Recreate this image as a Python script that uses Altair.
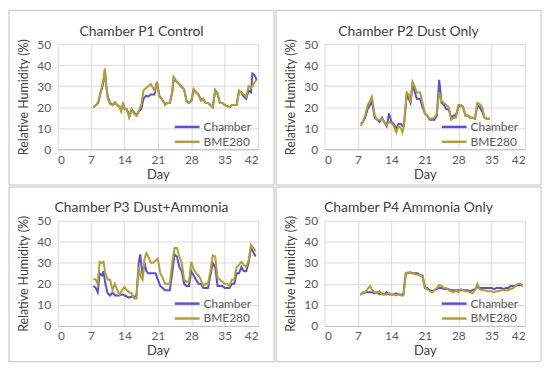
import altair as alt
import pandas as pd

TITLES = ["Chamber P1 Control", "Chamber P2 Dust Only",
          "Chamber P3 Dust+Ammonia", "Chamber P4 Ammonia Only"]
SERIES = ["Chamber", "BME280"]
COLORS = ["#5B4FD3", "#B49E2E"]
X_TICKS = [0, 7, 14, 21, 28, 35, 42]
Y_TICKS = [0, 10, 20, 30, 40, 50]

# ---- Panel P1 ----
P1_DAYS = [7.5, 8, 8.5, 9, 9.3, 9.6, 9.9, 10.2, 10.5, 11, 11.5, 12, 12.5, 13, 13.3, 13.7, 14,
           14.5, 15, 15.5, 16, 16.5, 17, 17.5, 18, 18.5, 19, 19.5, 20, 20.3, 20.8, 21.3, 21.8,
           22.5, 23, 23.5, 24, 24.3, 25, 25.5, 26, 26.5, 27, 27.5, 28, 28.5, 29, 29.5, 30,
           30.5, 31, 31.5, 32, 32.5, 33, 33.5, 34, 34.5, 35, 35.5, 36, 36.5, 37, 37.5, 38,
           38.5, 39, 39.5, 40, 40.5, 40.8, 41.3, 41.7]
P1_CHAMBER = [20, 21, 22, 27, 29, 32, 37.5, 30, 25, 22, 21, 22, 21, 20, 18.5, 21.5, 19.5,
              19, 15.5, 19, 17.5, 16, 18, 19, 24, 25.5, 25, 26, 26, 26, 32, 25.5, 24,
              21.5, 22, 22, 27, 33.5, 32, 31, 29.5, 28.5, 23, 22, 23, 28.5, 27, 26, 23.5,
              24, 22, 22, 21, 20, 28, 26.5, 22, 22, 21, 20.5, 20, 21, 21, 21, 27.5,
              27, 25, 24, 28, 27, 36, 35, 33]
P1_BME = [20, 21, 22.5, 27, 30, 33, 38.5, 30, 24, 21.5, 21, 22.5, 21, 20, 18, 22, 19,
          19, 15, 19, 17, 16, 18, 21, 28, 29, 30, 31, 29, 28, 32, 25, 24,
          21, 22, 22, 27, 34.5, 32, 31, 29.5, 28.5, 23, 22, 23, 28.5, 27, 26, 23,
          24, 22, 22, 21, 20, 28, 26, 22, 22, 21, 20.5, 20, 21, 21, 21, 28,
          27, 26, 25, 30, 29, 30, 32, 33]

# ---- Panel P2 ----
P2_DAYS = [7.6, 8, 8.5, 9, 9.5, 9.9, 10.5, 11, 11.5, 12, 12.5, 13, 13.5, 14, 14.5, 15, 15.5,
           16, 16.3, 16.6, 17.2, 17.6, 18, 18.4, 18.8, 19.3, 20, 20.5, 21, 21.5, 22, 22.5,
           23, 23.5, 24, 24.5, 25, 25.5, 26, 26.5, 27, 27.5, 28, 28.5, 29, 29.5, 30, 30.5,
           31, 31.5, 32, 32.5, 33, 33.5, 34, 34.6]
P2_CHAMBER = [12, 13, 15, 19, 21, 23, 15, 14, 13, 15, 13, 11, 17, 13, 12, 10, 12,
              12, 11, 11, 26, 24, 22, 31, 28, 24, 24, 20, 17, 16, 14, 14,
              14, 16, 33, 22, 21, 19, 19, 15, 16, 16, 20, 21, 20, 16, 16, 15,
              15, 14.5, 21, 20, 18, 15, 14.5, 14.5]
P2_BME = [11, 13, 16, 21, 23, 25, 16, 14, 14, 14.5, 13, 11.5, 13, 12.5, 11, 8, 11,
          10, 8, 11, 27, 26, 22, 32, 30, 27, 27, 22, 17, 16, 14.5, 14.5,
          15, 17, 27, 23, 22, 21, 20, 14, 15, 15, 21, 21, 20, 16, 16, 15,
          15, 14.5, 22, 21.5, 20, 15, 14.5, 14.5]

# ---- Panel P3 ----
P3_DAYS = [7.5, 8, 8.4, 8.8, 9.3, 9.6, 10, 10.5, 11, 11.5, 12, 12.5, 13, 13.5, 14, 14.5, 15,
           15.5, 16, 16.5, 17, 17.3, 17.8, 18.2, 18.6, 19, 19.5, 20, 20.5, 21, 21.5, 22,
           22.5, 23, 23.5, 24, 24.5, 25, 25.5, 26, 26.5, 27, 27.5, 28, 28.5, 29, 29.5, 30,
           30.5, 31, 31.5, 32, 32.5, 33, 33.5, 34, 34.5, 35, 35.5, 36, 36.5, 37, 37.5, 38,
           38.5, 39, 39.5, 40, 40.5, 41, 41.5]
P3_CHAMBER = [19, 18, 16, 25, 24, 26, 20, 15.5, 14.5, 16, 14.5, 14.5, 14.5, 15, 14.5, 14, 13.5,
              14, 14, 14, 30, 34, 24, 30, 26, 25, 25, 25, 25, 22, 19, 18,
              17, 17, 17, 25, 34, 33, 28, 26, 20, 19, 19, 26, 24, 22, 20, 20,
              18, 18, 18, 24, 30, 28, 19, 19, 19, 18, 18, 18, 20, 20, 25, 25,
              28, 26, 26, 30, 37, 35, 33]
P3_BME = [22.5, 22, 20, 30.5, 30, 30.5, 25, 22, 22, 17, 20, 17, 15, 17, 18.5, 17, 16,
          15.5, 13, 13, 28, 24, 22, 32, 34.5, 33, 30, 30, 31, 32, 25, 23,
          20, 20, 20, 30, 37, 37, 33, 30, 22, 21, 21, 30.5, 27, 25, 24, 22,
          19, 20, 20, 26, 33.5, 33, 23, 22, 21, 20, 20, 19, 22, 22, 28, 29,
          30.5, 29, 28, 31, 38.5, 37, 35.5]

# ---- Panel P4 ----
P4_DAYS = [7.5, 8, 8.5, 9, 9.5, 10, 10.5, 11, 11.5, 12, 12.5, 13, 13.5, 14, 14.5, 15, 15.5,
           16, 16.5, 17, 17.5, 18, 18.5, 19, 19.5, 20, 20.5, 21, 21.5, 22, 22.5, 23, 23.5,
           24, 24.5, 25, 25.5, 26, 26.5, 27, 27.5, 28, 28.5, 29, 29.5, 30, 30.5, 31, 31.5,
           32, 32.5, 33, 33.5, 34, 34.5, 35, 35.5, 36, 36.5, 37, 37.5, 38, 38.5, 39, 39.5,
           40, 40.5, 41, 41.5]
P4_CHAMBER = [15, 15.5, 16, 16, 16, 16, 15.5, 16, 15, 15.5, 15, 16, 15, 15, 15, 15.5, 15,
              15, 15, 25, 25, 25.5, 25, 25, 25, 24, 24, 18.5, 18, 17, 16.5, 17, 17.5,
              18, 18, 17.5, 17.5, 17.5, 17, 17, 17, 17, 17, 17, 17, 17, 16.5, 17, 17.5,
              18.5, 18, 18, 18, 18, 18, 18, 17.5, 18, 18, 18, 17.5, 18, 18, 19, 19,
              19, 19.5, 19.5, 19]
P4_BME = [14.5, 16, 16, 17.5, 19, 17, 16, 15.5, 16.5, 15, 15, 15, 15.5, 15, 15, 14.5, 15,
          14.5, 14.5, 25, 25.5, 25, 25, 24.5, 24.5, 24, 23.5, 18, 17.5, 16.5, 16, 17, 18,
          19.5, 19, 18, 18, 17, 16.5, 16, 17, 16, 17.5, 17, 16.5, 16.5, 16, 15.5, 17,
          20, 17.5, 17, 17, 16.5, 16.5, 16.5, 16, 16.5, 16.5, 17, 17, 17, 17, 17.5, 18,
          19, 20, 20, 19]

FONT = "Lato"
W, H = 202, 106          # plot area
L, T = 49, 34            # plot-area offset inside the panel frame
PW, PH = 267, 176        # whole panel frame


def panel(title, days, chamber, bme):
    rows = [{"Day": d, "RH": v, "Sensor": "Chamber"} for d, v in zip(days, chamber)]
    rows += [{"Day": d, "RH": v, "Sensor": "BME280"} for d, v in zip(days, bme)]
    df = pd.DataFrame(rows)

    lines = alt.Chart(df).mark_line(strokeWidth=2, clip=True).encode(
        x=alt.X("Day:Q",
                scale=alt.Scale(domain=[0, 42], nice=False, zero=False),
                axis=alt.Axis(values=X_TICKS, title="Day", grid=True, ticks=False,
                              domain=True, domainColor="#BFBFBF", gridColor="#D9D9D9",
                              labelFont=FONT, labelFontSize=12, labelColor="#595959",
                              labelPadding=5, titleFont=FONT, titleFontSize=13,
                              titleFontWeight="normal", titleColor="#404040",
                              titlePadding=3)),
        y=alt.Y("RH:Q",
                scale=alt.Scale(domain=[0, 50], nice=False),
                axis=alt.Axis(values=Y_TICKS, title="Relative Humidity (%)", grid=True,
                              ticks=False, domain=False, gridColor="#D9D9D9",
                              labelFont=FONT, labelFontSize=12, labelColor="#595959",
                              labelPadding=7, titleFont=FONT, titleFontSize=12.5,
                              titleFontWeight="normal", titleColor="#404040",
                              titlePadding=6)),
        color=alt.Color("Sensor:N",
                        scale=alt.Scale(domain=SERIES, range=COLORS),
                        legend=alt.Legend(orient="none", legendX=123, legendY=76,
                                          title=None, symbolType="M-2,0H2",
                                          symbolSize=156, symbolStrokeWidth=2.5,
                                          labelFont=FONT, labelFontSize=12,
                                          labelColor="#595959", rowPadding=1,
                                          padding=0, labelOffset=9)),
    )

    frame = alt.Chart(pd.DataFrame({"f": [0]})).mark_rect(
        fill="transparent", stroke="#BFBFBF", strokeWidth=1, clip=False
    ).encode(x=alt.value(-L), x2=alt.value(PW - L), y=alt.value(-T), y2=alt.value(PH - T))

    return alt.layer(frame, lines).properties(
        width=W, height=H,
        title=alt.TitleParams(title, font=FONT, fontSize=14, fontWeight="normal",
                              color="#404040", anchor="middle", frame="bounds",
                              offset=-29),
    )


p1 = panel(TITLES[0], P1_DAYS, P1_CHAMBER, P1_BME)
p2 = panel(TITLES[1], P2_DAYS, P2_CHAMBER, P2_BME)
p3 = panel(TITLES[2], P3_DAYS, P3_CHAMBER, P3_BME)
p4 = panel(TITLES[3], P4_DAYS, P4_CHAMBER, P4_BME)

chart = alt.concat(p1, p2, p3, p4, columns=2, spacing=0).resolve_scale(
    color="independent"
).properties(
    padding=0, background="white"
).configure_view(strokeWidth=0)

chart.save("out.html", embed_options={"renderer": "svg", "actions": False})
